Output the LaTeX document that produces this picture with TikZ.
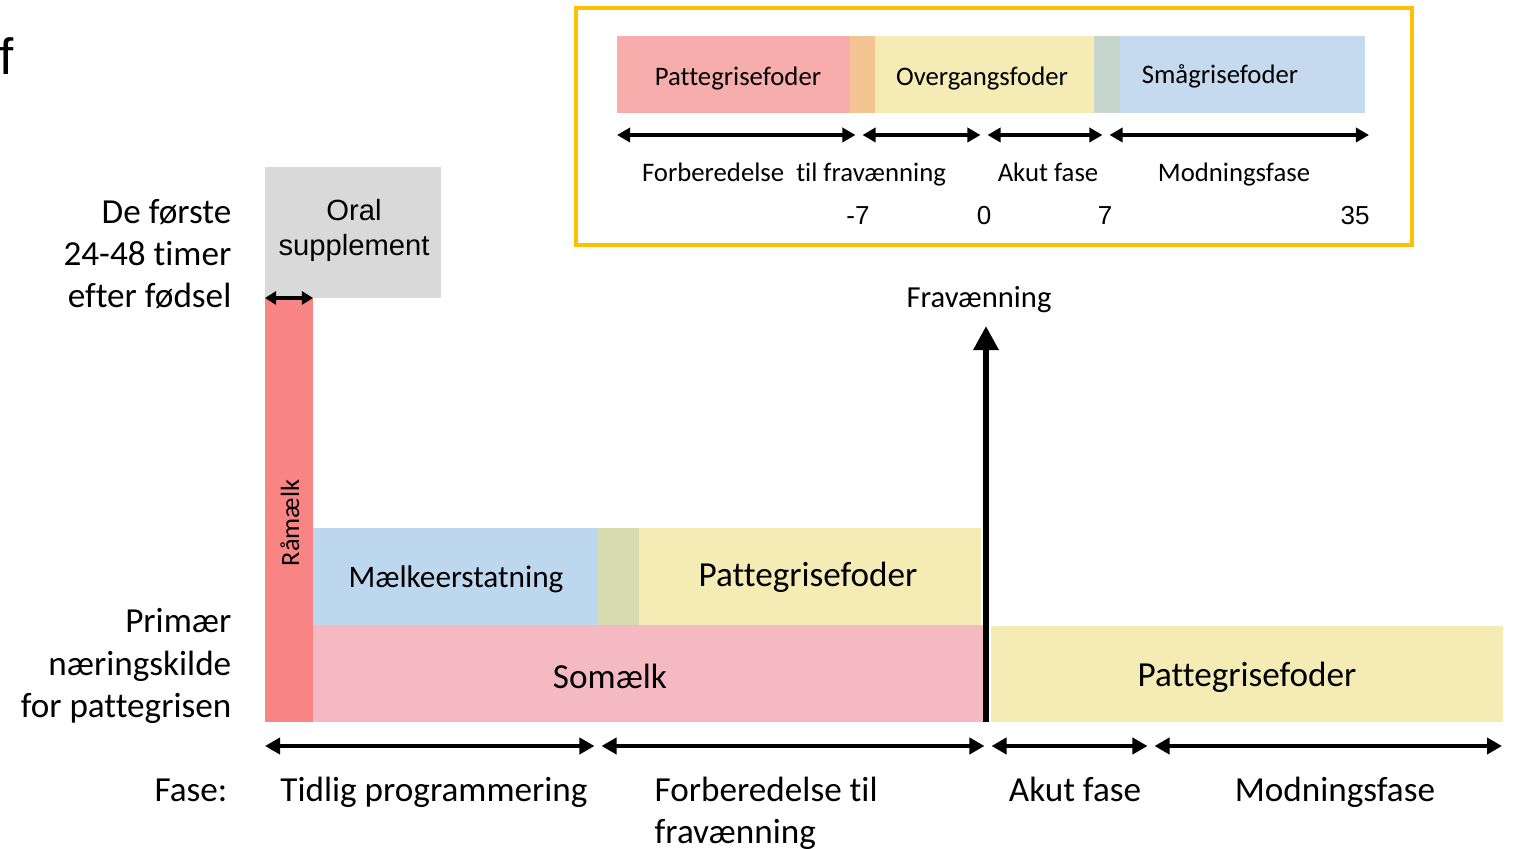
\documentclass[tikz,border=0pt]{standalone}
\usepackage{fontspec}
\setmainfont{Carlito}[Ligatures=NoCommon]
\newfontfamily\arialf{Liberation Sans}
\usetikzlibrary{arrows.meta,fit}
\definecolor{pinkTop}{HTML}{F8ADAD}
\definecolor{orangeStrip}{HTML}{F4C592}
\definecolor{yel}{HTML}{F5EBB5}
\definecolor{greyGreen}{HTML}{C6D6CC}
\definecolor{blueTop}{HTML}{C5DAEE}
\definecolor{greyBox}{HTML}{D9D9D9}
\definecolor{raared}{HTML}{F98484}
\definecolor{maelkblue}{HTML}{BDD7EE}
\definecolor{greenish}{HTML}{D7DBB0}
\definecolor{somaelk}{HTML}{F4B9C1}
\definecolor{insetY}{HTML}{FFC000}
\tikzset{
  bar/.style={inner sep=0pt, outer sep=0pt, draw=none},
  fixh/.style={text height=0.75em, text depth=0.25em},
  big/.style={font=\fontsize{10}{12}\selectfont, inner sep=0pt},
  small/.style={font=\fontsize{7.6}{9}\selectfont, inner sep=0pt, fixh},
  num/.style={font=\arialf\fontsize{7.4}{9}\selectfont, inner sep=0pt},
  dbl/.style={line width=0.04cm, {Triangle[length=0.15cm,width=0.16cm]}-{Triangle[length=0.15cm,width=0.16cm]}},
  dblsmall/.style={line width=0.035cm, {Triangle[length=0.13cm,width=0.14cm]}-{Triangle[length=0.13cm,width=0.14cm]}}
}
\begin{document}
\begin{tikzpicture}[x=0.01cm,y=-0.01cm]
\useasboundingbox (0,0) rectangle (1514,849);

% corner letter
\node[font=\arialf\fontsize{14.5}{16}\selectfont, inner sep=0pt, anchor=base west] (flet) at (-1.5,75) {f};

% ---------- inset ----------
\node[draw=insetY, line width=0.045cm, inner sep=0pt, fit={(576,8) (1412,245)}] (inset) {};
\node[bar, fill=pinkTop, fit={(617,36) (850,113)}] (tpink) {};
\node[bar, fill=orangeStrip, fit={(850,36) (875,113)}] (torange) {};
\node[bar, fill=yel, fit={(875,36) (1094,113)}] (tyel) {};
\node[bar, fill=greyGreen, fit={(1094,36) (1120,113)}] (tgg) {};
\node[bar, fill=blueTop, fit={(1120,36) (1365,113)}] (tblue) {};
\node[small] (tpinkt) at (738,77) {Pattegrisefoder};
\node[small] (tyelt) at (982,77) {Overgangsfoder};
\node[small] (tbluet) at (1220,75) {Smågrisefoder};

\coordinate (i0) at (617,135);
\coordinate (i1) at (859,135);
\coordinate (i2) at (984,135);
\coordinate (i3) at (1106,135);
\coordinate (i4) at (1369,135);
\draw[dblsmall] (i0) -- ([xshift=-1]i1);
\draw[dblsmall] ([xshift=1]i1) -- ([xshift=-1]i2);
\draw[dblsmall] ([xshift=1]i2) -- ([xshift=-1]i3);
\draw[dblsmall] ([xshift=1]i3) -- (i4);

\node[small] (tl1) at (794,173) {Forberedelse\ \ til fravænning};
\node[small] (tl2) at (1048,173) {Akut fase};
\node[small] (tl3) at (1234,173) {Modningsfase};
\node[num] (n1) at (858,216) {-7};
\node[num] (n2) at (984,216) {0};
\node[num] (n3) at (1105,216) {7};
\node[num] (n4) at (1355,216) {35};

% ---------- main chart ----------
\node[bar, fill=greyBox, fit={(265,167) (441,298)}] (oral) {};
\node[font=\arialf\fontsize{8.3}{10}\selectfont, align=center, inner sep=0pt] (oralt) at (354,230.5) {Oral\\supplement};
\node[bar, fill=raared, fit={(265,298) (313,722)}] (raa) {};
\node[font=\fontsize{7.5}{9}\selectfont, inner sep=0pt, rotate=90] (raat) at (290,523) {Råmælk};
\coordinate (r0) at (265,298);
\coordinate (r1) at (313,298);
\draw[line width=0.035cm, {Triangle[length=0.11cm,width=0.13cm]}-{Triangle[length=0.11cm,width=0.13cm]}] (r0) -- (r1);

\node[bar, fill=maelkblue, fit={(313,528) (597,625)}] (mblue) {};
\node[bar, fill=greenish, fit={(597,528) (639,625)}] (mgreen) {};
\node[bar, fill=yel, fit={(639,528) (981,625)}] (myel) {};
\node[bar, fill=somaelk, fit={(313,625) (983,722)}] (somaelk) {};
\node[bar, fill=yel, fit={(991,626) (1503,722)}] (ryel) {};

\node[big, fixh, font=\fontsize{8.9}{11}\selectfont] (mbluet) at (456,579) {Mælkeerstatning};
\node[big, fixh] (myelt) at (808,578) {Pattegrisefoder};
\node[big, fixh] (somt) at (610,680) {Somælk};
\node[big, fixh] (ryelt) at (1247,678) {Pattegrisefoder};

% weaning arrow
\node[font=\fontsize{8.7}{10}\selectfont, inner sep=0pt, fixh] (frav) at (979,299) {Fravænning};
\coordinate (wb) at (986,722);
\coordinate (wt) at (986,326);
\draw[line width=0.065cm, -{Triangle[length=0.24cm,width=0.24cm]}] (wb) -- (wt);

% left labels
\node[big, align=right, anchor=east] (lab1) at (232,254) {De første\\24-48 timer\\efter fødsel};
\node[big, align=right, anchor=east] (lab2) at (232,666) {Primær\\næringskilde\\for pattegrisen};

% bottom arrows
\coordinate (b0) at (265,746);
\coordinate (b1) at (598,746);
\coordinate (b2) at (988,746);
\coordinate (b3) at (1151,746);
\coordinate (b4) at (1502,746);
\draw[dbl] (b0) -- ([xshift=-1]b1);
\draw[dbl] ([xshift=1]b1) -- ([xshift=-1]b2);
\draw[dbl] ([xshift=1]b2) -- ([xshift=-1]b3);
\draw[dbl] ([xshift=1]b3) -- (b4);

% phase labels
\node[big, fixh, anchor=east] (fase) at (228,793) {Fase:};
\node[big, fixh] (p1) at (434,793) {Tidlig programmering};
\node[big, align=left, anchor=north west] (p2) at (654,776) {Forberedelse til\\fravænning};
\node[big, fixh] (p3) at (1075,793) {Akut fase};
\node[big, fixh] (p4) at (1335,793) {Modningsfase};
\end{tikzpicture}
\end{document}
